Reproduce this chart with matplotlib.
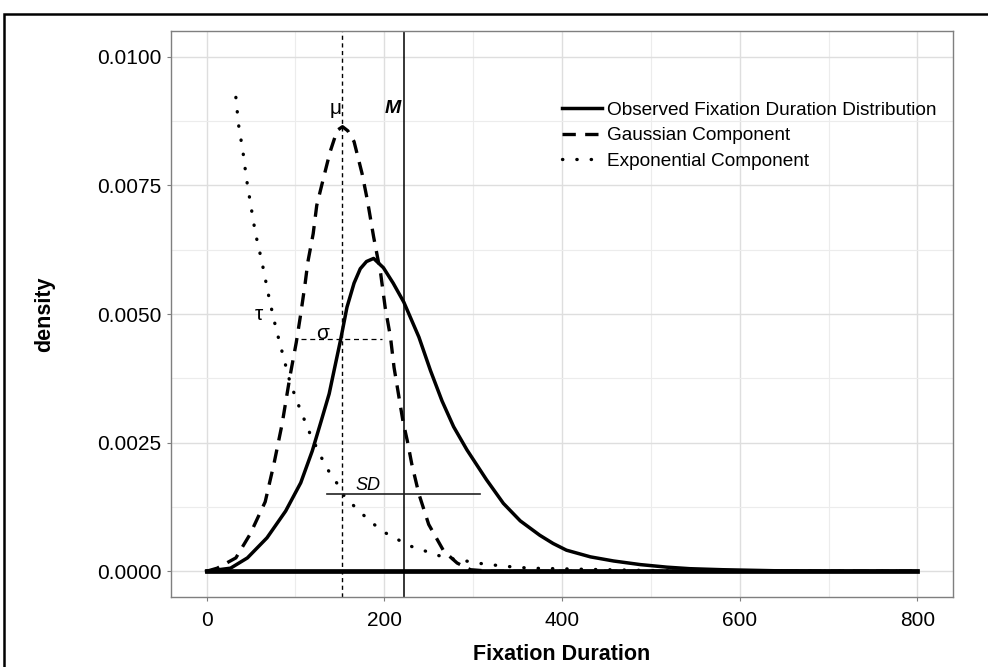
import numpy as np
import matplotlib.pyplot as plt
from matplotlib.patches import Rectangle
from matplotlib.ticker import MultipleLocator

plt.rcParams['font.family'] = ['Liberation Sans', 'DejaVu Sans']

x_obs = [0, 27, 46, 68, 89, 106, 119, 129, 138, 143, 151, 158, 166, 173, 180, 188,
         199, 210, 222, 239, 252, 265, 278, 293, 304, 315, 334, 353, 375, 390, 405,
         432, 458, 488, 518, 544, 581, 640, 700, 800]
y_obs = [0, 0.00006, 0.00026, 0.00065, 0.00117, 0.00172, 0.00234, 0.00292, 0.00345,
         0.00386, 0.00451, 0.00513, 0.00560, 0.00588, 0.00602, 0.00608, 0.00590,
         0.00560, 0.00523, 0.00455, 0.00390, 0.00331, 0.00281, 0.00236, 0.00207,
         0.00178, 0.00132, 0.00098, 0.00070, 0.00054, 0.00041, 0.00028, 0.00020,
         0.00013, 0.00008, 0.00005, 0.00003, 0.00001, 0.0, 0.0]

# Componente Gaussiana
x_gau = [0, 12, 33, 49, 66, 76, 85, 94, 101, 106, 111, 114, 120, 124, 131, 139,
         147, 153, 159, 166, 175, 181, 188, 196, 201, 207, 211, 216, 221, 226,
         231, 239, 250, 267, 282, 297, 320, 800]
y_gau = [0, 0.00006, 0.00026, 0.00072, 0.00135, 0.00210, 0.00286, 0.00380, 0.00445,
         0.00500, 0.00560, 0.00601, 0.00656, 0.00711, 0.00760, 0.00815, 0.00857,
         0.00864, 0.00856, 0.00835, 0.00773, 0.00721, 0.00650, 0.00578, 0.00513,
         0.00455, 0.00396, 0.00344, 0.00292, 0.00253, 0.00208, 0.00150, 0.00091,
         0.00039, 0.00016, 0.00003, 0.0, 0.0]

# Componente exponencial
x_exp = [33, 36, 41, 45, 50, 55, 62, 71, 78, 86, 94, 105, 117, 131, 139, 148, 155,
         167, 178, 190, 202, 217, 231, 245, 260, 274, 289, 304, 319, 334, 349, 364,
         394, 450, 520, 620, 800]
y_exp = [0.00921, 0.00868, 0.00815, 0.00762, 0.00709, 0.00657, 0.00604, 0.00526,
         0.00473, 0.00420, 0.00367, 0.00316, 0.00265, 0.00215, 0.00190, 0.00168,
         0.00146, 0.00125, 0.00107, 0.00089, 0.00074, 0.00060, 0.00048, 0.00040,
         0.00031, 0.00025, 0.00021, 0.00016, 0.00013, 0.00010, 0.00008, 0.00006,
         0.00005, 0.00003, 0.00001, 0.0, 0.0]

mu = 152
M = 222
sigma = 46
SD = 86
y_sigma = 0.00451
y_sd = 0.00151

fig = plt.figure(figsize=(9.88, 6.67), dpi=100)
ax = fig.add_axes([171/988, 1 - 597/667, 782/988, 566/667])

# moldura preta em volta da figura
fig.patches.append(Rectangle((4/988, -0.5), 2, 0.5 + 1 - 14/667, transform=fig.transFigure,
                             fill=False, edgecolor='black', linewidth=1.8))

ax.plot(x_obs, y_obs, color='black', linewidth=2.5, label='Observed Fixation Duration Distribution')
ax.plot(x_gau, y_gau, color='black', linewidth=2.4, linestyle=(0, (4, 2.8)),
        label='Gaussian Component')
ax.plot(x_exp, y_exp, color='black', linewidth=2.4, linestyle=(0, (0.1, 4.2)),
        dash_capstyle='round', label='Exponential Component')
ax.plot([min(x_obs), max(x_obs)], [0, 0], color='black', linewidth=3.4)

ax.axvline(mu, color='black', linewidth=1.0, linestyle=(0, (3, 2.5)))
ax.axvline(M, color='black', linewidth=1.1)
ax.plot([mu - sigma, mu + sigma], [y_sigma, y_sigma], color='black', linewidth=0.9,
        linestyle=(0, (4, 3)))
ax.plot([M - SD, M + SD], [y_sd, y_sd], color='#222222', linewidth=1.2)

ax.text(145, 0.0090, 'μ', fontsize=15, ha='center', va='center')
ax.text(210, 0.0090, 'M', fontsize=14, ha='center', va='center', fontweight='bold', style='italic')
ax.text(130, 0.00462, 'σ', fontsize=15, ha='center', va='center')
ax.text(59, 0.00499, 'τ', fontsize=15, ha='center', va='center')
ax.text(182, 0.00166, 'SD', fontsize=13, ha='center', va='center', style='italic')

ax.set_xlim(-40, 840)
ax.set_ylim(-0.0005, 0.0105)
ax.xaxis.set_major_locator(MultipleLocator(200))
ax.xaxis.set_minor_locator(MultipleLocator(100))
ax.yaxis.set_major_locator(MultipleLocator(0.0025))
ax.yaxis.set_minor_locator(MultipleLocator(0.00125))
ax.yaxis.set_major_formatter(plt.FuncFormatter(lambda v, p: f'{v:.4f}'))
ax.grid(True, which='major', color='#dedede', linewidth=1.0)
ax.grid(True, which='minor', color='#ececec', linewidth=0.8)
ax.set_axisbelow(True)
ax.tick_params(which='major', length=3, color='#7f7f7f', labelsize=15, labelcolor='black')
ax.tick_params(axis='x', which='major', pad=7)
ax.tick_params(axis='y', which='major', pad=4)
ax.tick_params(which='minor', length=0)
for s in ax.spines.values():
    s.set_color('#7f7f7f')
    s.set_linewidth(1.0)

ax.set_xlabel('Fixation Duration', fontsize=15.5, fontweight='bold', labelpad=10)
ax.set_ylabel('density', fontsize=15.5, fontweight='bold', labelpad=30)

leg = ax.legend(loc='upper left', bbox_to_anchor=(558/988, 1 - 98/667), bbox_transform=fig.transFigure,
                fontsize=13.7, frameon=False,
                handlelength=2.1, handletextpad=0.3, labelspacing=0.42, borderpad=0.2, borderaxespad=0)

fig.savefig('out.png', dpi=100)
